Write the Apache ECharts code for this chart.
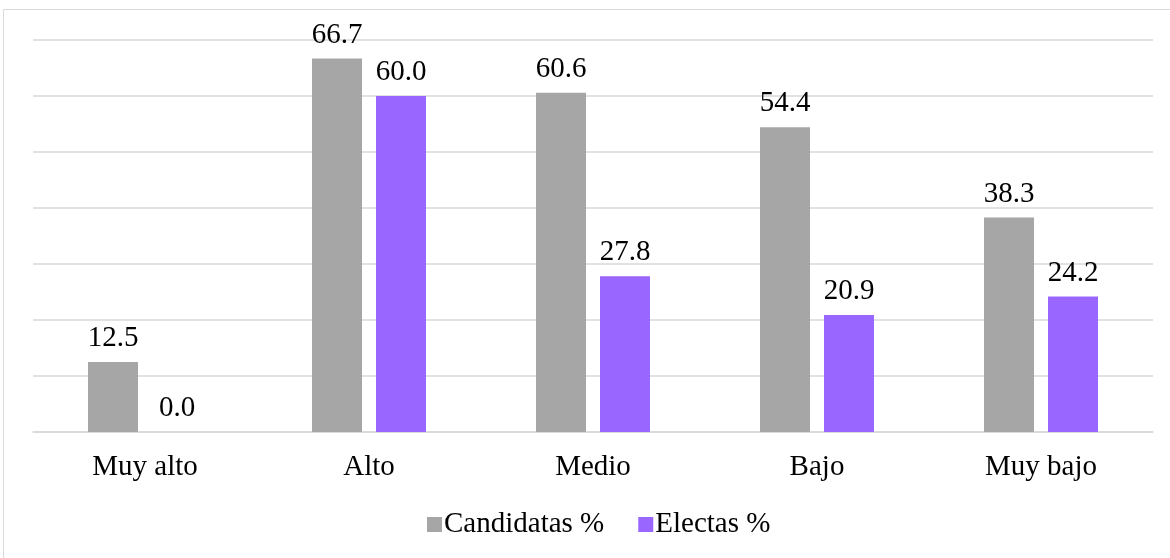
<!DOCTYPE html>
<html>
<head>
<meta charset="utf-8">
<script src="https://cdn.jsdelivr.net/npm/echarts@6/dist/echarts.min.js"></script>
<style>
html,body{margin:0;padding:0;background:#fff;}
#c{width:1170px;height:558px;}
</style>
</head>
<body>
<div id="c"></div>
<script>
const categories = ['Muy alto', 'Alto', 'Medio', 'Bajo', 'Muy bajo'];
const candidatas = [12.5, 66.7, 60.6, 54.4, 38.3];
const electas = [0.0, 60.0, 27.8, 20.9, 24.2];
const seriesNames = ['Candidatas %', 'Electas %'];

const FONT = '"Liberation Serif", "Times New Roman", serif';
const chart = echarts.init(document.getElementById('c'));
const labelCfg = {
  show: true,
  position: 'top',
  distance: 9,
  fontFamily: FONT,
  fontSize: 29,
  color: '#000',
  formatter: p => Number(p.value).toFixed(1)
};
chart.setOption({
  animation: false,
  graphic: [{
    type: 'rect',
    shape: { x: 3.5, y: 9.5, width: 1200, height: 600 },
    style: { fill: 'none', stroke: '#D9D9D9', lineWidth: 1 },
    silent: true
  }],
  grid: { left: 33, right: 17, top: 40, bottom: 126 },
  legend: {
    data: seriesNames,
    left: 422,
    top: 505,
    icon: 'rect',
    itemWidth: 15,
    itemHeight: 15,
    itemGap: 34,
    textStyle: { fontFamily: FONT, fontSize: 29, color: '#000', padding: [0, 0, 0, -3] }
  },
  xAxis: {
    type: 'category',
    data: categories,
    axisLine: { lineStyle: { color: '#D9D9D9', width: 1.5 } },
    axisTick: { show: false },
    axisLabel: { fontFamily: FONT, fontSize: 29, color: '#000', margin: 21 }
  },
  yAxis: {
    type: 'value',
    min: 0,
    max: 70,
    interval: 10,
    axisLabel: { show: false },
    axisLine: { show: false },
    axisTick: { show: false },
    splitLine: { lineStyle: { color: '#D9D9D9', width: 1.5 } }
  },
  series: [
    {
      name: seriesNames[0],
      type: 'bar',
      data: candidatas,
      barWidth: 50,
      barGap: '28%',
      itemStyle: { color: '#A6A6A6' },
      label: labelCfg
    },
    {
      name: seriesNames[1],
      type: 'bar',
      data: electas,
      barWidth: 50,
      itemStyle: { color: '#9966FF' },
      label: labelCfg
    }
  ]
});
</script>
</body>
</html>
